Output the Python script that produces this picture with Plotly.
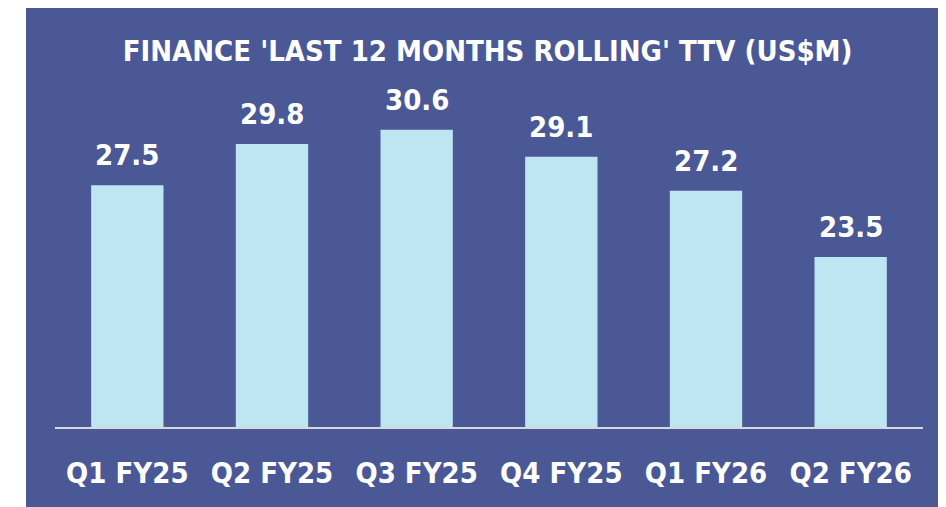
import plotly.graph_objects as go

quarters = ['Q1 FY25', 'Q2 FY25', 'Q3 FY25', 'Q4 FY25', 'Q1 FY26', 'Q2 FY26']
ttv = [27.5, 29.8, 30.6, 29.1, 27.2, 23.5]

BG = '#4a5895'
BAR = '#bde5f2'
FONT = 'DejaVu Sans Condensed, Roboto, sans-serif'

fig = go.Figure()
fig.add_trace(go.Bar(x=quarters, y=ttv, marker=dict(color=BAR, line=dict(width=0)),
                     hoverinfo='skip'))

# value labels above the bars
for q, v in zip(quarters, ttv):
    fig.add_annotation(x=q, y=v, text=f'{v:.1f}', showarrow=False, yanchor='bottom',
                       yshift=11, font=dict(family=FONT, size=29, color='white', weight='bold'))

# blue panel behind the chart
fig.add_shape(type='rect', xref='paper', yref='paper', x0=-0.0334, x1=1.1, y0=-0.3, y1=1.2,
              fillcolor=BG, line=dict(width=0), layer='below')

fig.update_layout(
    width=946, height=507,
    margin=dict(l=47, r=31, t=43, b=88),
    paper_bgcolor='white', plot_bgcolor='rgba(0,0,0,0)',
    bargap=0.5, showlegend=False,
    title=dict(text="FINANCE 'LAST 12 MONTHS ROLLING' TTV (US$M)", x=0.507, xanchor='center',
               y=0.915, yanchor='middle',
               font=dict(family=FONT, size=29, color='white', weight='bold')),
    xaxis=dict(showline=True, linecolor='#d9d9d9', linewidth=2, ticks='', ticklabelstandoff=19,
               tickfont=dict(family=FONT, size=29, color='white', weight='bold')),
    yaxis=dict(range=[14, 35], visible=False, showgrid=False),
)

fig.write_html('out.html')
